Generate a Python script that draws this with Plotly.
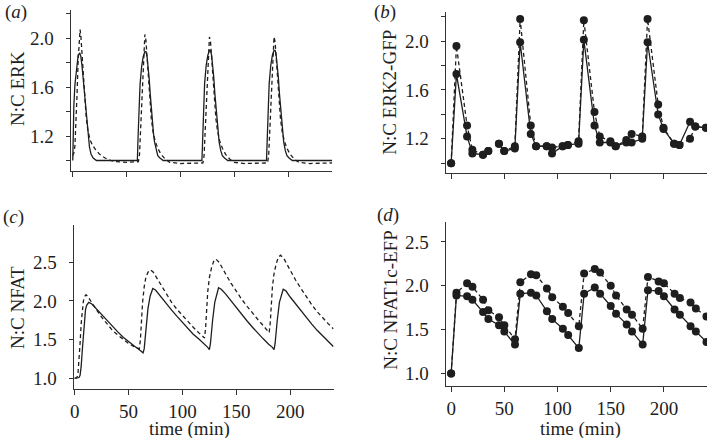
import plotly.graph_objects as go

# ---------------- data ----------------
# (a) model N:C ERK
a_t_solid = [0, 0.3, 1, 2, 3.5, 5, 6.5, 7.5, 8.5, 9.5, 10.5, 11.5, 12.5, 13.5, 14.5, 15.5, 17, 19, 22, 60,
             60.7, 61.5, 62.5, 64, 65.5, 67, 68, 69, 70, 71, 72, 73, 74, 75, 76, 77.5, 79, 81, 84, 120,
             120.7, 121.5, 122.5, 124, 125.5, 127, 128, 129, 130, 131, 132, 133, 134, 135, 136, 137.5, 139, 141, 144, 180,
             180.7, 181.5, 182.5, 184, 185.5, 187, 188, 189, 190, 191, 192, 193, 194, 195, 196, 197.5, 199, 201, 204, 241]
a_solid = [1.0, 1.25, 1.45, 1.62, 1.77, 1.86, 1.88, 1.85, 1.78, 1.68, 1.57, 1.46, 1.35, 1.25, 1.17, 1.11, 1.05, 1.02, 1.0, 1.0,
           1.2, 1.45, 1.62, 1.77, 1.85, 1.89, 1.89, 1.85, 1.78, 1.67, 1.54, 1.42, 1.31, 1.22, 1.15, 1.08, 1.04, 1.02, 1.0, 1.0,
           1.2, 1.45, 1.63, 1.78, 1.86, 1.90, 1.90, 1.86, 1.79, 1.68, 1.55, 1.43, 1.32, 1.23, 1.15, 1.08, 1.04, 1.02, 1.0, 1.0,
           1.2, 1.45, 1.63, 1.78, 1.86, 1.90, 1.90, 1.86, 1.79, 1.68, 1.55, 1.43, 1.32, 1.23, 1.15, 1.08, 1.04, 1.02, 1.0, 1.0]
a_t_dash = [0, 1, 2, 3, 4, 5, 6, 6.8, 7.5, 8.5, 9.5, 10.5, 11.5, 12.5, 14, 16, 18, 21, 25, 30, 35, 40, 50, 60,
            61, 62, 63, 64, 65, 66, 67, 68, 69, 70, 71, 72, 73, 74.5, 76.5, 79, 82, 86, 90, 100, 120,
            121, 122, 123, 124, 125, 126, 127, 128, 129, 130, 131, 132, 133, 134.5, 136.5, 139, 142, 146, 150, 160, 180,
            181, 182, 183, 184, 185, 186, 187, 188, 189, 190, 191, 192, 193, 194.5, 196.5, 199, 202, 206, 210, 220, 241]
a_dash = [1.04, 1.06, 1.12, 1.3, 1.55, 1.82, 2.0, 2.07, 2.02, 1.88, 1.72, 1.57, 1.45, 1.35, 1.25, 1.17, 1.13, 1.09, 1.05, 1.02, 1.0, 0.99, 0.985, 0.985,
          0.99, 1.05, 1.25, 1.5, 1.75, 1.93, 2.03, 1.98, 1.85, 1.70, 1.56, 1.44, 1.34, 1.24, 1.16, 1.10, 1.05, 1.01, 0.985, 0.975, 0.975,
          0.98, 1.04, 1.24, 1.49, 1.74, 1.92, 2.01, 1.97, 1.85, 1.70, 1.56, 1.44, 1.34, 1.24, 1.16, 1.10, 1.05, 1.01, 0.985, 0.975, 0.975,
          0.98, 1.04, 1.24, 1.49, 1.74, 1.92, 2.01, 1.97, 1.85, 1.70, 1.56, 1.44, 1.34, 1.24, 1.16, 1.10, 1.05, 1.01, 0.985, 0.975, 0.98]

# (b) measured N:C ERK2-GFP
b_time = [0, 5, 15, 20, 30, 35, 40, 45, 50, 60, 65, 75, 80, 90, 95, 105, 110, 120, 125, 135, 140,
          150, 155, 165, 170, 180, 185, 195, 200, 210, 215, 225, 230, 240]
b_solid = [1.0, 1.73, 1.22, 1.08, 1.07, 1.10, None, 1.16, 1.10, 1.12, 1.99, 1.24, 1.14, 1.14, 1.08, 1.14, 1.15, 1.16, 2.01, 1.31, 1.17,
           1.17, 1.14, 1.17, 1.17, 1.20, 1.99, 1.40, 1.28, 1.16, 1.15, 1.34, 1.30, 1.29]
b_dash = [1.0, 1.96, 1.31, 1.11, 1.07, 1.10, None, 1.16, 1.10, 1.14, 2.18, 1.31, 1.14, 1.14, 1.13, 1.14, 1.15, 1.18, 2.17, 1.42, 1.22,
          1.18, 1.14, 1.19, 1.24, 1.22, 2.18, 1.48, 1.29, 1.16, 1.15, 1.20, 1.30, 1.29]

# (c) model N:C NFAT
c_t_solid = [0, 4, 5, 6, 7, 8, 9, 10, 11, 13, 16, 20, 25, 30, 35, 40, 45, 50, 55, 60, 62, 63.5,
             64.5, 66, 68, 70, 72.5, 75, 80, 85, 90, 95, 100, 105, 110, 115, 120, 123.5, 125,
             126, 128, 130, 133.5, 136, 140, 145, 150, 155, 160, 165, 170, 175, 180, 183.5, 185,
             186, 188, 190, 193.5, 196, 200, 205, 210, 215, 220, 225, 230, 235, 240]
c_solid = [1.0, 1.01, 1.04, 1.15, 1.35, 1.58, 1.76, 1.88, 1.94, 1.98, 1.96, 1.90, 1.82, 1.74, 1.67, 1.60, 1.53, 1.47, 1.42, 1.37, 1.35, 1.33,
           1.38, 1.60, 1.90, 2.06, 2.16, 2.14, 2.05, 1.96, 1.88, 1.80, 1.72, 1.64, 1.57, 1.51, 1.45, 1.40, 1.37,
           1.45, 1.75, 1.98, 2.17, 2.15, 2.09, 2.00, 1.91, 1.82, 1.74, 1.66, 1.58, 1.51, 1.44, 1.40, 1.37,
           1.45, 1.75, 1.98, 2.15, 2.13, 2.05, 1.96, 1.87, 1.78, 1.70, 1.62, 1.55, 1.48, 1.41]
c_t_dash = [0, 2, 3, 4, 5, 6, 7, 8, 9, 10.5, 12, 15, 20, 25, 30, 35, 40, 45, 50, 55, 59, 60,
            61, 62, 63, 64.5, 66, 68, 70.5, 73, 76, 80, 85, 90, 95, 100, 105, 110, 115, 119, 120.5,
            121.5, 122.5, 123.5, 125, 127, 129, 131, 134, 137, 140, 145, 150, 155, 160, 165, 170, 175, 179, 180.5,
            181.5, 182.5, 183.5, 185, 187, 189, 191, 194, 197, 200, 205, 210, 215, 220, 225, 230, 235, 240]
c_dash = [1.0, 1.01, 1.05, 1.2, 1.45, 1.70, 1.88, 1.99, 2.05, 2.08, 2.06, 1.99, 1.89, 1.79, 1.70, 1.62, 1.56, 1.50, 1.45, 1.41, 1.38, 1.38,
          1.5, 1.75, 1.98, 2.18, 2.30, 2.37, 2.40, 2.37, 2.30, 2.20, 2.09, 1.98, 1.89, 1.81, 1.73, 1.66, 1.59, 1.54, 1.52,
          1.65, 1.9, 2.12, 2.30, 2.43, 2.51, 2.54, 2.50, 2.42, 2.35, 2.23, 2.12, 2.02, 1.93, 1.84, 1.76, 1.68, 1.62, 1.59,
          1.72, 1.97, 2.18, 2.35, 2.48, 2.56, 2.59, 2.55, 2.47, 2.39, 2.27, 2.16, 2.05, 1.95, 1.86, 1.78, 1.71, 1.64]

# (d) measured N:C NFAT1c-EFP
d_time = [0, 5, 15, 20, 30, 35, 45, 50, 60, 65, 75, 80, 90, 95, 105, 110, 120, 125, 135, 140,
          150, 155, 165, 170, 180, 185, 195, 200, 210, 215, 225, 230, 240]
d_solid = [1.0, 1.89, 1.88, 1.84, 1.70, 1.62, 1.55, 1.48, 1.33, 1.91, 1.92, 1.89, 1.71, 1.62, 1.51, 1.44, 1.29, 1.91, 1.98, 1.91,
           1.77, 1.68, 1.56, 1.48, 1.33, 1.95, 1.94, 1.88, 1.73, 1.67, 1.54, 1.48, 1.36]
d_dash = [1.0, 1.92, 2.03, 1.99, 1.84, 1.72, 1.64, 1.55, 1.39, 2.04, 2.13, 2.12, 1.97, 1.87, 1.76, 1.69, 1.54, 2.14, 2.19, 2.15,
          2.00, 1.89, 1.73, 1.67, 1.51, 2.10, 2.05, 2.03, 1.91, 1.86, 1.81, 1.74, 1.65]

x_ticks = [0, 50, 100, 150, 200]
x_ticktext = ["0", "50", "100", "150", "200"]
erk_ticks = [1.0, 1.2, 1.4, 1.6, 1.8, 2.0, 2.2]
erk_ticktext = ["", "1.2", "", "1.6", "", "2.0", ""]
nfat_ticks = [1.0, 1.5, 2.0, 2.5]
nfat_ticktext = ["1.0", "1.5", "2.0", "2.5"]

# ---------------- figure ----------------
W, H = 711, 438
FONT = "Liberation Serif"
INK = "#1e1e1e"
AX = "#333333"


def px(x):
    return x / W


def py(y):
    return 1 - y / H


fig = go.Figure()
line_solid = dict(color=INK, width=1.3)
line_dash = dict(color=INK, width=1.3, dash="4px,3px")

fig.add_trace(go.Scatter(x=a_t_solid, y=a_solid, mode="lines", line=line_solid, xaxis="x", yaxis="y"))
fig.add_trace(go.Scatter(x=a_t_dash, y=a_dash, mode="lines", line=line_dash, xaxis="x", yaxis="y"))

mk = dict(color=INK, size=8)
fig.add_trace(go.Scatter(x=b_time, y=b_dash, mode="lines+markers", line=line_dash, marker=mk, xaxis="x2", yaxis="y2"))
fig.add_trace(go.Scatter(x=b_time, y=b_solid, mode="lines+markers", line=line_solid, marker=mk, xaxis="x2", yaxis="y2"))

fig.add_trace(go.Scatter(x=c_t_solid, y=c_solid, mode="lines", line=line_solid, xaxis="x3", yaxis="y3"))
fig.add_trace(go.Scatter(x=c_t_dash, y=c_dash, mode="lines", line=line_dash, xaxis="x3", yaxis="y3"))

fig.add_trace(go.Scatter(x=d_time, y=d_dash, mode="lines+markers", line=line_dash, marker=mk, xaxis="x4", yaxis="y4"))
fig.add_trace(go.Scatter(x=d_time, y=d_solid, mode="lines+markers", line=line_solid, marker=mk, xaxis="x4", yaxis="y4"))

tickfont = dict(family=FONT, size=19, color=INK)


def xax(domain, rng, anchor, labels):
    return dict(domain=domain, range=rng, anchor=anchor, showgrid=False, zeroline=False,
                showline=True, linecolor=AX, linewidth=1, ticks="outside", ticklen=5,
                tickcolor=AX, tickwidth=1, tickvals=x_ticks, ticktext=x_ticktext,
                showticklabels=labels, tickfont=tickfont, ticklabelstandoff=0)


def yax(domain, rng, anchor, tv, tt):
    return dict(domain=domain, range=rng, anchor=anchor, showgrid=False, zeroline=False,
                showline=True, linecolor=AX, linewidth=1, ticks="outside", ticklen=4,
                tickcolor=AX, tickwidth=1, tickvals=tv, ticktext=tt, tickfont=tickfont,
                ticklabelstandoff=8)


fig.update_layout(
    width=W, height=H, margin=dict(l=0, r=0, t=0, b=0),
    paper_bgcolor="white", plot_bgcolor="white", showlegend=False,
    xaxis=xax([px(67), px(330)], [-2, 241], "y", False),
    yaxis=yax([py(171), py(10)], [0.914, 2.23], "x", erk_ticks, erk_ticktext),
    xaxis2=xax([px(444), px(707)], [-5.3, 241], "y2", False),
    yaxis2=yax([py(173.3), py(11.7)], [0.918, 2.24], "x2", erk_ticks, erk_ticktext),
    xaxis3=xax([px(70), px(331.7)], [-1, 240.5], "y3", True),
    yaxis3=yax([py(389), py(225)], [0.862, 2.98], "x3", nfat_ticks, nfat_ticktext),
    xaxis4=xax([px(444), px(707)], [-5.3, 240.5], "y4", True),
    yaxis4=yax([py(386), py(221.7)], [0.858, 2.73], "x4", nfat_ticks, nfat_ticktext),
)

anns = [
    ("(<i>a</i>)", 12, 12, 0),
    ("(<i>b</i>)", 383, 12, 0),
    ("(<i>c</i>)", 10, 217, 0),
    ("(<i>d</i>)", 386, 215, 0),
    ("N:C ERK", 13, 88, -90),
    ("N:C ERK2-GFP", 387, 92, -90),
    ("N:C NFAT", 13, 307, -90),
    ("N:C NFAT1c-EFP", 388, 300, -90),
    ("time (min)", 187, 429, 0),
    ("time (min)", 580, 429, 0),
]
for text, x, y, ang in anns:
    fig.add_annotation(text=text, x=px(x), y=py(y), xref="paper", yref="paper",
                       xanchor="center", yanchor="middle", showarrow=False, textangle=ang,
                       font=dict(family=FONT, size=19, color=INK))

fig.write_html("out.html", config={"displayModeBar": False},
               post_script="document.body.style.margin='0';document.body.style.overflow='hidden';")
